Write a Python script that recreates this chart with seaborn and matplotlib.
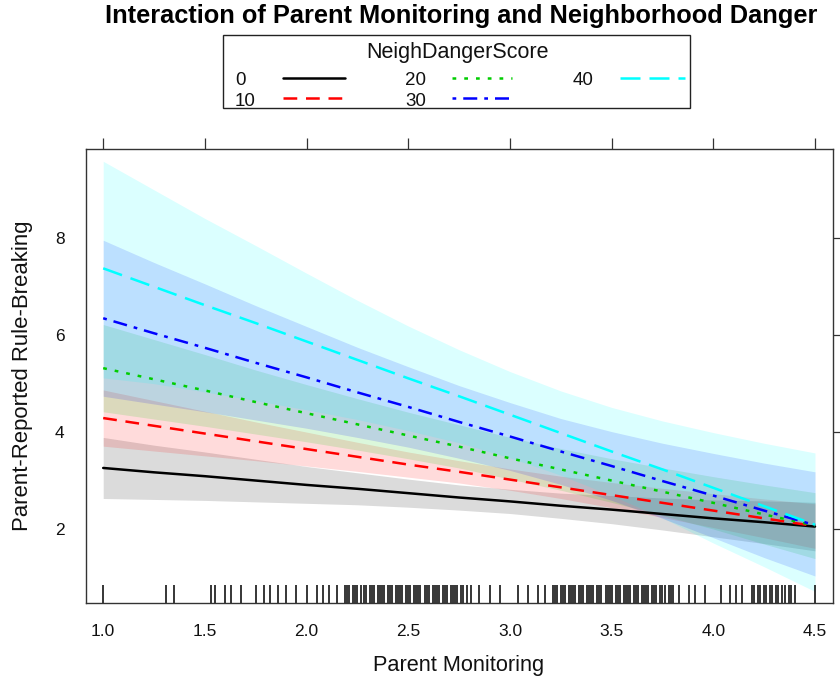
import matplotlib
matplotlib.use("Agg")
import matplotlib.pyplot as plt
from matplotlib.lines import Line2D
from matplotlib.patches import Rectangle
import seaborn as sns
import pandas as pd

# ---------------- data ----------------
monitoring = [1.0, 1.25, 1.5, 1.75, 2.0, 2.25, 2.5, 2.75,
              3.0, 3.25, 3.5, 3.75, 4.0, 4.25, 4.5]
danger_levels = ["0", "10", "20", "30", "40"]

fit_0 = [3.26, 3.17, 3.09, 3.00, 2.91, 2.83, 2.74, 2.65, 2.57, 2.48, 2.40, 2.31, 2.22, 2.14, 2.05]
lo_0 = [2.63, 2.61, 2.59, 2.56, 2.53, 2.50, 2.45, 2.39, 2.32, 2.22, 2.11, 1.98, 1.84, 1.70, 1.55]
hi_0 = [3.89, 3.73, 3.59, 3.44, 3.29, 3.16, 3.03, 2.91, 2.82, 2.74, 2.69, 2.64, 2.60, 2.58, 2.55]

fit_10 = [4.29, 4.13, 3.97, 3.81, 3.65, 3.49, 3.33, 3.18, 3.02, 2.86, 2.70, 2.54, 2.38, 2.22, 2.06]
lo_10 = [3.71, 3.61, 3.51, 3.41, 3.30, 3.19, 3.07, 2.95, 2.80, 2.63, 2.44, 2.24, 2.03, 1.82, 1.60]
hi_10 = [4.87, 4.65, 4.43, 4.21, 4.00, 3.79, 3.59, 3.41, 3.24, 3.09, 2.96, 2.84, 2.73, 2.62, 2.52]

fit_20 = [5.32, 5.09, 4.86, 4.62, 4.39, 4.16, 3.93, 3.70, 3.46, 3.23, 3.00, 2.77, 2.54, 2.30, 2.07]
lo_20 = [4.42, 4.27, 4.12, 3.96, 3.80, 3.63, 3.45, 3.26, 3.03, 2.80, 2.55, 2.28, 2.00, 1.69, 1.39]
hi_20 = [6.22, 5.91, 5.60, 5.28, 4.98, 4.69, 4.41, 4.15, 3.89, 3.66, 3.45, 3.26, 3.08, 2.91, 2.75]

fit_30 = [6.35, 6.04, 5.74, 5.43, 5.13, 4.82, 4.52, 4.21, 3.91, 3.60, 3.30, 2.99, 2.69, 2.38, 2.08]
lo_30 = [4.74, 4.58, 4.42, 4.25, 4.08, 3.89, 3.69, 3.46, 3.21, 2.92, 2.59, 2.22, 1.82, 1.41, 1.03]
hi_30 = [7.96, 7.50, 7.06, 6.61, 6.18, 5.75, 5.35, 4.96, 4.61, 4.28, 4.01, 3.77, 3.56, 3.36, 3.18]

fit_40 = [7.38, 7.00, 6.62, 6.25, 5.87, 5.49, 5.11, 4.74, 4.36, 3.98, 3.60, 3.23, 2.85, 2.47, 2.09]
lo_40 = [5.12, 5.00, 4.83, 4.65, 4.46, 4.26, 4.03, 3.78, 3.47, 3.11, 2.69, 2.23, 1.71, 1.22, 0.71]
hi_40 = [9.59, 9.00, 8.41, 7.85, 7.28, 6.72, 6.19, 5.70, 5.25, 4.85, 4.51, 4.23, 3.99, 3.77, 3.57]

rug_monitoring = [
    1.00, 1.31, 1.35, 1.53, 1.55, 1.60, 1.63, 1.68, 1.75, 1.79, 1.82, 1.86,
    1.90, 1.95, 2.00, 2.05, 2.08, 2.11, 2.15,
    2.19, 2.20, 2.21, 2.23, 2.24, 2.25, 2.27, 2.28, 2.29, 2.31, 2.32, 2.33,
    2.35, 2.36, 2.37, 2.38, 2.40, 2.41, 2.42, 2.44, 2.45, 2.46, 2.47, 2.49,
    2.50, 2.51, 2.53, 2.54, 2.55, 2.56, 2.58, 2.59, 2.60, 2.62, 2.63, 2.64,
    2.65, 2.67, 2.68, 2.69, 2.71, 2.72, 2.73, 2.74, 2.76, 2.77, 2.79,
    2.81, 2.85, 2.90, 2.95,
    3.04, 3.09, 3.14, 3.17, 3.21,
    3.22, 3.23, 3.25, 3.26, 3.27, 3.29, 3.30, 3.31, 3.32, 3.34, 3.35, 3.36,
    3.38, 3.39, 3.40, 3.41, 3.43, 3.44, 3.45, 3.47, 3.48, 3.49, 3.50, 3.52,
    3.53, 3.54, 3.56, 3.57, 3.58, 3.59, 3.61, 3.62, 3.63, 3.65, 3.66, 3.67,
    3.68, 3.70, 3.71, 3.72, 3.74, 3.75, 3.76, 3.78, 3.79, 3.80,
    3.83, 3.88, 3.91, 3.96,
    4.04, 4.08, 4.11, 4.14,
    4.19, 4.20, 4.22, 4.23, 4.25, 4.26, 4.28, 4.29, 4.31, 4.32, 4.34, 4.35,
    4.37, 4.38, 4.40,
    4.50,
]

x_ticks = [1.0, 1.5, 2.0, 2.5, 3.0, 3.5, 4.0, 4.5]
x_tick_labels = ["1.0", "1.5", "2.0", "2.5", "3.0", "3.5", "4.0", "4.5"]
y_ticks = [2, 4, 6, 8]
y_tick_labels = ["2", "4", "6", "8"]

title_text = "Interaction of Parent Monitoring and Neighborhood Danger"
x_label = "Parent Monitoring"
y_label = "Parent-Reported Rule-Breaking"
legend_title = "NeighDangerScore"

# ---------------- styling ----------------
colors = {"0": "#000000", "10": "#FF0000", "20": "#00CD00",
          "30": "#0000FF", "40": "#00FFFF"}
dashes = {"0": "", "10": (5.5, 3.5), "20": (1.5, 3.2),
          "30": (1.5, 2.8, 5.6, 2.8), "40": (8.0, 3.6)}

fits = {"0": fit_0, "10": fit_10, "20": fit_20, "30": fit_30, "40": fit_40}
los = {"0": lo_0, "10": lo_10, "20": lo_20, "30": lo_30, "40": lo_40}
his = {"0": hi_0, "10": hi_10, "20": hi_20, "30": hi_30, "40": hi_40}

rows = []
for d in danger_levels:
    for m, f in zip(monitoring, fits[d]):
        rows.append({"monitoring": m, "fit": f, "danger": d})
df = pd.DataFrame(rows)

sns.set_theme(style="white")
plt.rcParams["font.family"] = ["Liberation Sans", "DejaVu Sans"]

W, H = 840, 681
fig = plt.figure(figsize=(W / 100, H / 100), dpi=100)
ax_l, ax_r, ax_t, ax_b = 85.5, 832.7, 149.3, 602.7
ax = fig.add_axes([ax_l / W, 1 - ax_b / H, (ax_r - ax_l) / W, (ax_b - ax_t) / H])

band_alpha = 0.14
for d in danger_levels:
    ax.fill_between(monitoring, los[d], his[d], color=colors[d],
                    alpha=band_alpha, linewidth=0, zorder=1)

sns.lineplot(data=df, x="monitoring", y="fit", hue="danger", style="danger",
             palette=colors, dashes=dashes, hue_order=danger_levels,
             style_order=danger_levels, linewidth=1.8, legend=False,
             sort=False, ax=ax, zorder=3)

sns.rugplot(x=rug_monitoring, height=0.038, color="black", linewidth=1.1,
            expand_margins=False, ax=ax)

ax.set_xlim(0.913, 4.587)
ax.set_ylim(0.479, 9.837)
ax.set_xticks(x_ticks)
ax.set_xticklabels(x_tick_labels)
ax.set_yticks(y_ticks)
ax.set_yticklabels(y_tick_labels)
ax.set_xlabel("")
ax.set_ylabel("")
for sp in ax.spines.values():
    sp.set_visible(True)
    sp.set_color("#333333")
    sp.set_linewidth(1.0)
ax.tick_params(axis="both", which="both", direction="out", length=8,
               width=0.9, color="#333333", top=True, right=True,
               labeltop=False, labelright=False, labelsize=12.5,
               labelcolor="#111111")
ax.tick_params(axis="x", pad=7)
ax.tick_params(axis="y", pad=7)
ax.grid(False)

# title and axis labels
fig.text(461 / W, 1 - 23 / H, title_text, ha="center", va="baseline",
         fontsize=18.3, fontweight="bold", color="black")
fig.text(459 / W, 1 - 671 / H, x_label, ha="center", va="baseline",
         fontsize=15.7, color="#111111")
fig.text(23 / W, 1 - 376 / H, y_label, ha="center", va="center",
         rotation=90, fontsize=15.9, color="#111111")

# legend (lattice style key drawn in figure pixels)
box_l, box_r, box_t, box_b = 223, 690, 35, 108
fig.patches.append(Rectangle((box_l / W, 1 - box_b / H), (box_r - box_l) / W,
                             (box_b - box_t) / H, transform=fig.transFigure,
                             facecolor="white", edgecolor="#222222",
                             linewidth=1.0))
fig.text(458 / W, 1 - 58.3 / H, legend_title, ha="center", va="baseline",
         fontsize=15.5, color="#111111")
leg_fs = 13.5
text_x = {"0": 235, "10": 235, "20": 405, "30": 405, "40": 573}
line_x = {"0": (283, 345), "10": (283, 345), "20": (452, 512),
          "30": (452, 512), "40": (620, 685)}
base_y = {"0": 85.0, "10": 106.0, "20": 85.0, "30": 106.0, "40": 85.0}
line_y = {"0": 77.5, "10": 97.5, "20": 77.5, "30": 97.5, "40": 77.5}
for d in danger_levels:
    fig.text(text_x[d] / W, 1 - base_y[d] / H, d, ha="left", va="baseline",
             fontsize=leg_fs, color="#111111")
    x0, x1 = line_x[d]
    ln = Line2D([x0 / W, x1 / W], [1 - line_y[d] / H] * 2,
                transform=fig.transFigure, color=colors[d], linewidth=1.8)
    if dashes[d]:
        ln.set_dashes(dashes[d])
    fig.lines.append(ln)

fig.savefig("out.png", dpi=100)
